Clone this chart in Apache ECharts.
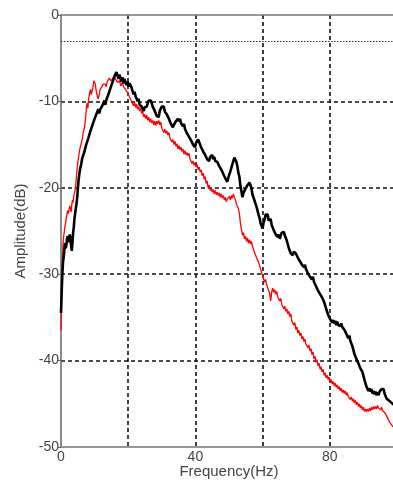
<!DOCTYPE html>
<html><head><meta charset="utf-8">
<script src="https://cdn.jsdelivr.net/npm/echarts@6/dist/echarts.min.js"></script>
<style>html,body{margin:0;padding:0;background:#fff}#c{width:393px;height:482px}</style>
</head><body><div id="c"></div>
<script>
const xTickLabels = [0, 40, 80];
const yTickValues = [0, -10, -20, -30, -40, -50];
const referenceLevel = -3;
const blackCurve = [[0,-34.5],[0.2,-32],[0.4,-30],[0.6,-28.6],[0.8,-28],[1,-27.2],[1.2,-26.4],[1.4,-27],[1.6,-26.6],[1.8,-25.9],[2,-25.6],[2.2,-26.3],[2.4,-25.9],[2.6,-25.4],[2.8,-25.8],[3,-26.6],[3.2,-27.3],[3.4,-26.4],[3.6,-25.2],[3.8,-24.6],[4,-23.6],[4.2,-23],[4.4,-22.4],[4.6,-21.9],[4.8,-21.2],[5,-20.2],[5.2,-19.2],[5.4,-18.6],[5.6,-18],[5.8,-17.6],[6,-17.3],[6.3,-16.6],[6.6,-16.7],[6.9,-15.9],[7.2,-15.9],[7.5,-15],[7.8,-15.1],[8.1,-14.3],[8.4,-14.2],[8.7,-13.5],[9,-13.5],[9.3,-12.8],[9.6,-12.8],[9.9,-12.1],[10.2,-12.1],[10.5,-11.5],[10.8,-11.5],[11.1,-10.9],[11.4,-11.4],[11.7,-10.9],[12,-10.7],[12.3,-10.5],[12.6,-10.4],[12.9,-9.9],[13.2,-10.4],[13.5,-9.8],[13.8,-9.8],[14.1,-9.2],[14.4,-9.2],[14.7,-8.5],[15,-8.5],[15.3,-7.8],[15.6,-7.7],[15.9,-7.1],[16.2,-7.2],[16.5,-6.6],[16.8,-7],[17.1,-7.4],[17.4,-6.9],[17.7,-7.3],[18,-7.7],[18.3,-7.2],[18.6,-7.9],[18.9,-7.4],[19.2,-7.8],[19.5,-8.1],[19.8,-7.7],[20.1,-8.3],[20.4,-7.9],[20.7,-7.8],[21,-8.4],[21.3,-8.6],[21.6,-9.2],[21.9,-8.9],[22.2,-9.4],[22.5,-9.5],[22.8,-10],[23.1,-9.7],[23.4,-10.4],[23.7,-10.5],[24,-10.6],[24.3,-10.8],[24.6,-11.1],[24.9,-10.7],[25.2,-10.6],[25.5,-10.6],[25.8,-10.4],[26.1,-9.9],[26.4,-9.8],[26.7,-9.9],[27,-10.2],[27.3,-10.6],[27.6,-10.5],[27.9,-11.1],[28.2,-11],[28.5,-11.7],[28.8,-11.6],[29.1,-11.8],[29.4,-11.1],[29.7,-11],[30,-10.6],[30.3,-10.8],[30.6,-10.6],[30.9,-11.2],[31.2,-11.1],[31.5,-11.5],[31.8,-11.3],[32.1,-12],[32.4,-12],[32.7,-12.6],[33,-12.5],[33.3,-13],[33.6,-12.7],[33.9,-12.8],[34.2,-12.3],[34.5,-12.5],[34.8,-12],[35.1,-12.3],[35.4,-12],[35.7,-12.5],[36,-12.4],[36.3,-12.9],[36.6,-12.6],[36.9,-13.2],[37.2,-13.1],[37.5,-13.7],[37.8,-13.6],[38.1,-14.1],[38.4,-13.9],[38.7,-14.5],[39,-14.4],[39.3,-15],[39.6,-14.9],[39.9,-15.3],[40.2,-14.8],[40.5,-14.8],[40.8,-14.4],[41.1,-14.7],[41.4,-14.8],[41.7,-15.3],[42,-15.2],[42.3,-15.8],[42.6,-15.6],[42.9,-16.2],[43.2,-16.1],[43.5,-16.7],[43.8,-16.6],[44.1,-16.9],[44.4,-16.4],[44.7,-16.5],[45,-16.2],[45.3,-16.7],[45.6,-16.4],[45.9,-16.9],[46.2,-16.7],[46.5,-17],[46.8,-16.9],[47.1,-17.5],[47.4,-17.4],[47.7,-17.9],[48,-17.8],[48.3,-18.4],[48.6,-18.4],[48.9,-18.9],[49.2,-18.8],[49.5,-19.3],[49.8,-18.8],[50.1,-18.7],[50.4,-18.1],[50.7,-17.9],[51,-17.3],[51.3,-17.1],[51.6,-16.5],[51.9,-16.4],[52.2,-17],[52.5,-17.5],[52.8,-18.3],[53.1,-18.7],[53.4,-19.8],[53.7,-20.4],[54,-21.1],[54.3,-20.6],[54.6,-20.6],[54.9,-20.1],[55.2,-20.1],[55.5,-19.7],[55.8,-19.8],[56.1,-19.4],[56.4,-19.7],[56.7,-20.1],[57,-20.8],[57.3,-20.9],[57.6,-21.5],[57.9,-21.7],[58.2,-22.2],[58.5,-22.3],[58.8,-23.1],[59.1,-23.5],[59.4,-24.1],[59.7,-24.3],[60,-24.7],[60.3,-24],[60.6,-23.7],[60.9,-23.1],[61.2,-23],[61.5,-23.1],[61.8,-23.8],[62.1,-24],[62.4,-23.6],[62.7,-24.3],[63,-24.1],[63.3,-24.9],[63.6,-24.7],[63.9,-25.4],[64.2,-25.3],[64.5,-25.7],[64.8,-25.4],[65.1,-25.9],[65.4,-25.5],[65.7,-25.2],[66,-25.4],[66.3,-25.1],[66.6,-25.5],[66.9,-25.4],[67.2,-26.1],[67.5,-26.2],[67.8,-27],[68.1,-26.9],[68.4,-27.6],[68.7,-27.4],[69,-27.8],[69.3,-27.4],[69.6,-27.2],[69.9,-27.6],[70.2,-27.6],[70.5,-28.1],[70.8,-27.9],[71.1,-28.5],[71.4,-28.3],[71.7,-28.9],[72,-28.7],[72.3,-29.2],[72.6,-28.9],[72.9,-29.4],[73.2,-29.2],[73.5,-29.9],[73.8,-29.7],[74.1,-30.3],[74.4,-30.1],[74.7,-30.6],[75,-30.3],[75.3,-30.9],[75.6,-30.8],[75.9,-31.4],[76.2,-31.3],[76.5,-31.9],[76.8,-31.7],[77.1,-32.3],[77.4,-32.1],[77.7,-32.7],[78,-32.6],[78.3,-33.2],[78.6,-33.3],[78.9,-34],[79.2,-34],[79.5,-34.7],[79.8,-34.6],[80.1,-35.2],[80.4,-35],[80.7,-35.6],[81,-35.3],[81.3,-35.7],[81.6,-35.4],[81.9,-35.9],[82.2,-35.5],[82.5,-35.9],[82.8,-35.7],[83.1,-36],[83.4,-35.7],[83.7,-36.1],[84,-35.9],[84.3,-36.4],[84.6,-36.2],[84.9,-36.9],[85.2,-36.8],[85.5,-37.4],[85.8,-37.1],[86.1,-37.7],[86.4,-37.5],[86.7,-38.3],[87,-38.4],[87.3,-39.2],[87.6,-39.1],[87.9,-39.8],[88.2,-39.7],[88.5,-40.3],[88.8,-40.2],[89.1,-40.9],[89.4,-40.7],[89.7,-41.3],[90,-41.4],[90.3,-42.2],[90.6,-42.3],[90.9,-43],[91.2,-42.9],[91.5,-43.5],[91.8,-43.2],[92.1,-43.6],[92.4,-43.3],[92.7,-43.8],[93,-43.5],[93.3,-43.9],[93.6,-43.6],[93.9,-44],[94.2,-43.7],[94.5,-44],[94.8,-43.6],[95.1,-43.7],[95.4,-43.3],[95.7,-43.5],[96,-43.3],[96.3,-43.8],[96.6,-43.8],[96.9,-44.4],[97.2,-44.2],[97.5,-44.6],[97.8,-44.4],[98.1,-44.8],[98.4,-44.6],[98.7,-45],[99,-44.8],[99.3,-45.2],[99.6,-45],[100,-45.3]];
const redCurve = [[0,-36.5],[0.2,-32],[0.4,-28.5],[0.6,-26.5],[0.8,-25.6],[1,-25],[1.2,-24.4],[1.4,-24],[1.6,-23.4],[1.8,-23],[2,-22.6],[2.2,-23],[2.4,-22.5],[2.6,-22.1],[2.8,-22.4],[3,-22.8],[3.2,-22],[3.4,-21.4],[3.6,-21.7],[3.8,-21],[4,-20.6],[4.2,-20.3],[4.4,-19.6],[4.6,-18.6],[4.8,-17.8],[5,-17.1],[5.2,-16.6],[5.4,-16],[5.6,-15.5],[5.8,-15.2],[6,-14.9],[6.2,-14.6],[6.4,-14.2],[6.6,-13.6],[6.8,-13.3],[7,-13],[7.2,-12.8],[7.4,-11.6],[7.6,-10.5],[7.8,-10.2],[8,-10.8],[8.2,-9.8],[8.4,-9.3],[8.6,-8.9],[8.8,-8.6],[9,-9.2],[9.2,-9.4],[9.4,-8.6],[9.6,-8.1],[9.8,-7.6],[10,-7.4],[10.2,-8],[10.4,-8.6],[10.6,-9],[10.8,-9.4],[11,-9.7],[11.2,-9.8],[11.4,-9.2],[11.6,-8.7],[11.8,-8.5],[12,-8.4],[12.2,-8.6],[12.4,-8.2],[12.6,-8],[12.8,-8.1],[13,-7.9],[13.2,-8],[13.4,-8.3],[13.6,-8.1],[13.8,-7.7],[14,-7.5],[14.2,-7.6],[14.4,-7.3],[14.6,-7.2],[14.8,-7.6],[15,-7.8],[15.2,-7.5],[15.4,-7.4],[15.6,-7.2],[15.8,-7],[16,-7.1],[16.2,-7.4],[16.4,-7.6],[16.6,-7.5],[16.8,-7.8],[17,-7.9],[17.2,-7.7],[17.4,-7.6],[17.6,-7.9],[17.8,-8.2],[18,-8.1],[18.3,-7.8],[18.6,-8.3],[18.9,-8.1],[19.2,-8.6],[19.5,-8.4],[19.8,-9],[20.1,-8.8],[20.4,-9.5],[20.7,-9.3],[21,-10],[21.3,-9.8],[21.6,-10.5],[21.9,-10.1],[22.2,-10.7],[22.5,-10.3],[22.8,-10.9],[23.1,-10.6],[23.4,-11.1],[23.7,-10.8],[24,-11.4],[24.3,-11.1],[24.6,-11.8],[24.9,-11.5],[25.2,-12],[25.5,-11.6],[25.8,-12.2],[26.1,-11.8],[26.4,-12.4],[26.7,-12],[27,-12.5],[27.3,-12.2],[27.6,-12.7],[27.9,-12.3],[28.2,-12.8],[28.5,-12.3],[28.8,-12.6],[29.1,-12.2],[29.4,-12.7],[29.7,-12.4],[30,-13.1],[30.3,-12.9],[30.6,-13.6],[30.9,-13.2],[31.2,-13.7],[31.5,-13.4],[31.8,-13.9],[32.1,-13.6],[32.4,-14.2],[32.7,-14],[33,-14.7],[33.3,-14.4],[33.6,-15],[33.9,-14.6],[34.2,-15.2],[34.5,-14.9],[34.8,-15.5],[35.1,-15.1],[35.4,-15.6],[35.7,-15.3],[36,-15.8],[36.3,-15.5],[36.6,-16.1],[36.9,-15.7],[37.2,-16.2],[37.5,-15.9],[37.8,-16.3],[38.1,-16],[38.4,-16.7],[38.7,-16.5],[39,-17.2],[39.3,-16.9],[39.6,-17.4],[39.9,-17.1],[40.2,-17.6],[40.5,-17.3],[40.8,-17.9],[41.1,-17.6],[41.4,-18.2],[41.7,-17.9],[42,-18.6],[42.3,-18.3],[42.6,-19],[42.9,-18.7],[43.2,-19.5],[43.5,-19.2],[43.8,-20],[44.1,-19.7],[44.4,-20.3],[44.7,-20],[45,-20.5],[45.3,-20.2],[45.6,-20.7],[45.9,-20.3],[46.2,-20.8],[46.5,-20.5],[46.8,-20.9],[47.1,-20.6],[47.4,-21.1],[47.7,-20.7],[48,-21.2],[48.3,-20.9],[48.6,-21.4],[48.9,-21.1],[49.2,-21.6],[49.5,-21.3],[49.8,-21.5],[50.1,-21],[50.4,-21.4],[50.7,-20.9],[51,-21.2],[51.3,-20.7],[51.6,-21.1],[51.9,-21.4],[52.2,-21.9],[52.5,-21.7],[52.8,-22.4],[53.1,-23],[53.4,-24.1],[53.7,-24.8],[54,-25.5],[54.3,-25.2],[54.6,-25.9],[54.9,-25.6],[55.2,-26.2],[55.5,-25.8],[55.8,-26.4],[56.1,-26],[56.4,-26.5],[56.7,-26.2],[57,-26.8],[57.3,-26.7],[57.6,-27.5],[57.9,-27.3],[58.2,-28.1],[58.5,-27.9],[58.8,-28.6],[59.1,-28.5],[59.4,-29.4],[59.7,-29.4],[60,-30.2],[60.3,-30.1],[60.6,-30.9],[60.9,-30.6],[61.2,-31.2],[61.5,-31],[61.8,-31.9],[62.1,-32.2],[62.4,-33.1],[62.7,-32.1],[63,-31.6],[63.3,-32.1],[63.6,-31.8],[63.9,-32.3],[64.2,-32],[64.5,-32.6],[64.8,-32.4],[65.1,-33.1],[65.4,-32.8],[65.7,-33.5],[66,-33.3],[66.3,-34],[66.6,-33.7],[66.9,-34.3],[67.2,-34],[67.5,-34.6],[67.8,-34.3],[68.1,-34.9],[68.4,-34.6],[68.7,-35.4],[69,-35.2],[69.3,-35.9],[69.6,-35.6],[69.9,-36.4],[70.2,-36.1],[70.5,-36.8],[70.8,-36.5],[71.1,-37.1],[71.4,-36.8],[71.7,-37.5],[72,-37.2],[72.3,-37.8],[72.6,-37.5],[72.9,-38.1],[73.2,-37.9],[73.5,-38.5],[73.8,-38.2],[74.1,-38.9],[74.4,-38.6],[74.7,-39.3],[75,-39],[75.3,-39.8],[75.6,-39.5],[75.9,-40.2],[76.2,-39.9],[76.5,-40.6],[76.8,-40.3],[77.1,-41],[77.4,-40.7],[77.7,-41.3],[78,-41],[78.3,-41.7],[78.6,-41.4],[78.9,-42],[79.2,-41.7],[79.5,-42.2],[79.8,-41.9],[80.1,-42.5],[80.4,-42.2],[80.7,-42.7],[81,-42.4],[81.3,-42.9],[81.6,-42.6],[81.9,-43.1],[82.2,-42.8],[82.5,-43.3],[82.8,-43],[83.1,-43.5],[83.4,-43.2],[83.7,-43.7],[84,-43.4],[84.3,-43.8],[84.6,-43.5],[84.9,-44],[85.2,-43.7],[85.5,-44.2],[85.8,-44],[86.1,-44.5],[86.4,-44.2],[86.7,-44.7],[87,-44.4],[87.3,-44.9],[87.6,-44.6],[87.9,-45.1],[88.2,-44.8],[88.5,-45.3],[88.8,-45],[89.1,-45.5],[89.4,-45.2],[89.7,-45.7],[90,-45.4],[90.3,-45.9],[90.6,-45.6],[90.9,-45.9],[91.2,-45.6],[91.5,-45.9],[91.8,-45.5],[92.1,-45.8],[92.4,-45.4],[92.7,-45.7],[93,-45.3],[93.3,-45.6],[93.6,-45.3],[93.9,-45.6],[94.2,-45.2],[94.5,-45.5],[94.8,-45.3],[95.1,-45.7],[95.4,-45.4],[95.7,-45.8],[96,-45.6],[96.3,-46],[96.6,-45.8],[96.9,-46.4],[97.2,-46.3],[97.5,-46.9],[97.8,-46.8],[98.1,-47.3],[98.4,-47.1],[98.7,-47.6],[99,-47.4],[99.3,-47.8],[99.6,-47.7],[100,-48]];

const FONT = 'Liberation Sans, Arial, sans-serif';
const chart = echarts.init(document.getElementById('c'), null, {renderer: 'canvas'});
chart.setOption({
  animation: false,
  backgroundColor: '#fff',
  grid: {left: 61, top: 15, right: -4, bottom: 35, containLabel: false, outerBoundsMode: 'none'},
  xAxis: [{
    type: 'value', min: 0, max: 100, interval: 20,
    name: 'Frequency(Hz)', nameLocation: 'middle', nameGap: 17, nameMoveOverlap: false,
    nameTextStyle: {color: '#444', fontSize: 15, fontFamily: FONT},
    axisLine: {show: true, onZero: false, lineStyle: {color: '#777', width: 1.5}},
    axisTick: {show: false},
    axisLabel: {color: '#444', fontSize: 14, fontFamily: FONT, margin: 3,
      formatter: v => xTickLabels.includes(v) ? String(v) : ''},
    splitLine: {show: true, showMinLine: false, showMaxLine: false,
      lineStyle: {color: '#111', width: 1.6, type: [4, 3]}}
  }, {
    type: 'value', position: 'top', min: 0, max: 100,
    axisLine: {show: true, onZero: false, lineStyle: {color: '#777', width: 1.5}},
    axisTick: {show: false}, axisLabel: {show: false}, splitLine: {show: false}
  }],
  yAxis: {
    type: 'value', min: -50, max: 0, interval: 10,
    name: 'Amplitude(dB)', nameLocation: 'middle', nameGap: 33, nameRotate: 90, nameMoveOverlap: false,
    nameTextStyle: {color: '#444', fontSize: 15, fontFamily: FONT},
    axisLine: {show: true, onZero: false, lineStyle: {color: '#666', width: 1.5}},
    axisTick: {show: true, length: 3, lineStyle: {color: '#666'}},
    axisLabel: {color: '#444', fontSize: 14, fontFamily: FONT, margin: 2,
      formatter: v => yTickValues.includes(v) ? String(v) : ''},
    splitLine: {show: true, showMinLine: false, showMaxLine: false,
      lineStyle: {color: '#111', width: 1.6, type: [4, 3]}}
  },
  series: [{
    type: 'line', data: redCurve, showSymbol: false, symbol: 'none',
    lineStyle: {color: '#ff0000', width: 1.3}, z: 3,
    markLine: {silent: true, symbol: 'none', label: {show: false},
      lineStyle: {color: '#333', width: 1, type: [1.5, 1.5]},
      data: [{yAxis: referenceLevel}]}
  }, {
    type: 'line', data: blackCurve, showSymbol: false, symbol: 'none',
    lineStyle: {color: '#000', width: 2.6}, z: 4
  }]
});
</script></body></html>
